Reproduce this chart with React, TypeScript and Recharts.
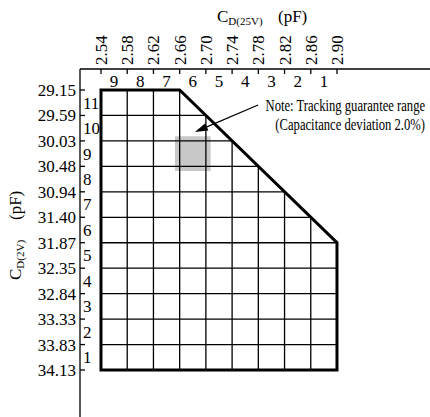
import {
  ComposedChart,
  XAxis,
  YAxis,
  Scatter,
  ReferenceLine,
  ReferenceArea,
  Label,
} from "recharts";

const FONT = '"Liberation Serif", "Times New Roman", serif';

// C_D(25V) tick labels, left to right (pF)
const cd25Labels = ["2.54", "2.58", "2.62", "2.66", "2.70", "2.74", "2.78", "2.82", "2.86", "2.90"];
// C_D(2V) tick labels, top to bottom (pF)
const cd2Labels = [
  "29.15", "29.59", "30.03", "30.48", "30.94", "31.40",
  "31.87", "32.35", "32.84", "33.33", "33.83", "34.13",
];
// rank numbers written between the ticks
const columnRanks = [9, 8, 7, 6, 5, 4, 3, 2, 1];
const rowRanks = [11, 10, 9, 8, 7, 6, 5, 4, 3, 2, 1];

// outline of the guaranteed area, in (column, row) grid units
const outline = [
  { x: 0, y: 0 },
  { x: 3, y: 0 },
  { x: 9, y: 6 },
  { x: 9, y: 11 },
  { x: 0, y: 11 },
  { x: 0, y: 0 },
];

// highlighted rank pair
const highlight = { col: 6, row: 9 };

// note arrow, from the text to the cell (grid units)
const noteArrow = [
  { x: 5.99, y: 0.59 },
  { x: 3.58, y: 1.65 },
];
const noteLines = ["Note: Tracking guarantee range", "(Capacitance deviation 2.0%)"];

// where a grid line at v crosses the outline
const crossings = (axis: "x" | "y", v: number) => {
  const other = axis === "x" ? "y" : "x";
  const hits: number[] = [];
  for (let i = 0; i < outline.length - 1; i++) {
    const p = outline[i];
    const q = outline[i + 1];
    if (p[axis] === q[axis]) continue;
    if (v < Math.min(p[axis], q[axis]) || v > Math.max(p[axis], q[axis])) continue;
    hits.push(p[other] + ((v - p[axis]) * (q[other] - p[other])) / (q[axis] - p[axis]));
  }
  return [Math.min(...hits), Math.max(...hits)];
};

const colLines = cd25Labels.slice(1, -1).map((_, i) => i + 1);
const rowLines = cd2Labels.slice(1, -1).map((_, i) => i + 1);

const xTicks = cd25Labels.flatMap((_, i) => (i < columnRanks.length ? [i, i + 0.5] : [i]));
const yTicks = cd2Labels.flatMap((_, i) => (i < rowRanks.length ? [i, i + 0.5] : [i]));

const TopTick = ({ x, y, payload }: any) => {
  const v = payload.value;
  if (Number.isInteger(v)) {
    return (
      <g>
        <line x1={x} y1={y} x2={x} y2={y + 5} stroke="#000" strokeWidth={1.3} />
        <text
          transform={`translate(${x},${y - 4}) rotate(-90)`}
          dy="0.35em"
          fontSize={17}
          fontFamily={FONT}
          fill="#000"
        >
          {cd25Labels[v]}
        </text>
      </g>
    );
  }
  return (
    <text x={x} y={y + 18} textAnchor="middle" fontSize={17} fontFamily={FONT} fill="#000">
      {columnRanks[Math.floor(v)]}
    </text>
  );
};

const LeftTick = ({ x, y, payload }: any) => {
  const v = payload.value;
  if (Number.isInteger(v)) {
    return (
      <g>
        <line x1={x} y1={y} x2={x + 5} y2={y} stroke="#000" strokeWidth={1.3} />
        <text x={x - 4} y={y} dy="0.35em" textAnchor="end" fontSize={17} fontFamily={FONT} fill="#000">
          {cd2Labels[v]}
        </text>
      </g>
    );
  }
  return (
    <text x={x + 3} y={y} dy="0.35em" fontSize={17} fontFamily={FONT} fill="#000">
      {rowRanks[Math.floor(v)]}
    </text>
  );
};

// the note's serif text is narrow in the original, so squeeze it
const NoteArrow = ({ x1, y1, x2, y2 }: any) => {
  const a = Math.atan2(y2 - y1, x2 - x1);
  const len = 13;
  const half = 4;
  const bx = x2 - len * Math.cos(a);
  const by = y2 - len * Math.sin(a);
  const px = -Math.sin(a) * half;
  const py = Math.cos(a) * half;
  const right = x1 + 167;
  return (
    <g>
      <line x1={x1} y1={y1} x2={bx} y2={by} stroke="#000" strokeWidth={1.2} />
      <polygon
        points={`${x2},${y2} ${bx + px},${by + py} ${bx - px},${by - py}`}
        fill="#000"
      />
      <text
        transform={`translate(${right},${y1 + 6}) scale(0.743,1)`}
        textAnchor="end"
        fontSize={17}
        fontFamily={FONT}
        fill="#000"
      >
        {noteLines[0]}
      </text>
      <text
        transform={`translate(${right},${y1 + 25}) scale(0.743,1)`}
        textAnchor="end"
        fontSize={17}
        fontFamily={FONT}
        fill="#000"
      >
        {noteLines[1]}
      </text>
    </g>
  );
};

const TopTitle = ({ viewBox }: any) => (
  <text x={viewBox.x + 137} y={viewBox.y + 22} fontSize={17} fontFamily={FONT} fill="#000">
    C
    <tspan fontSize={11} dy={3}>
      D(25V)
    </tspan>
    <tspan fontSize={17} dy={-3} x={viewBox.x + 198}>
      (pF)
    </tspan>
  </text>
);

const LeftTitle = ({ viewBox }: any) => (
  <text
    transform={`translate(${viewBox.x + 21},${viewBox.y + 211}) rotate(-90)`}
    fontSize={17}
    fontFamily={FONT}
    fill="#000"
  >
    C
    <tspan fontSize={11} dy={3}>
      D(2V)
    </tspan>
    <tspan fontSize={17} dy={-3} x={60}>
      (pF)
    </tspan>
  </text>
);

const hx = cd25Labels.length - 1 - highlight.col;
const hy = cd2Labels.length - 1 - highlight.row;
const pad = 0.18;

export default function App() {
  return (
    <div style={{ position: "absolute", left: 0, top: 0 }}>
      <ComposedChart width={430} height={417} margin={{ top: 0, right: 0, bottom: 0, left: 0 }}>
        <XAxis
          type="number"
          dataKey="x"
          orientation="top"
          height={69}
          domain={[-0.8008, 12.547]}
          allowDataOverflow
          ticks={xTicks}
          interval={0}
          tickSize={0}
          tickMargin={0}
          tick={<TopTick />}
          axisLine={{ stroke: "#000", strokeWidth: 1.3 }}
        >
          <Label content={<TopTitle />} />
        </XAxis>
        <YAxis
          type="number"
          dataKey="y"
          width={80}
          reversed
          domain={[-0.825, 12.846]}
          allowDataOverflow
          ticks={yTicks}
          interval={0}
          tickSize={0}
          tickMargin={0}
          tick={<LeftTick />}
          axisLine={{ stroke: "#000", strokeWidth: 1.3 }}
        >
          <Label content={<LeftTitle />} />
        </YAxis>
        <ReferenceArea
          x1={hx - pad}
          x2={hx + 1 + pad}
          y1={hy - pad}
          y2={hy + 1 + pad}
          fill="#c8c8c8"
          fillOpacity={1}
          stroke="none"
          ifOverflow="visible"
        />
        {colLines.map((c) => {
          const [y0, y1] = crossings("x", c);
          return (
            <ReferenceLine
              key={`c${c}`}
              segment={[{ x: c, y: y0 }, { x: c, y: y1 }]}
              stroke="#000"
              strokeWidth={1.3}
              ifOverflow="visible"
            />
          );
        })}
        {rowLines.map((r) => {
          const [x0, x1] = crossings("y", r);
          return (
            <ReferenceLine
              key={`r${r}`}
              segment={[{ x: x0, y: r }, { x: x1, y: r }]}
              stroke="#000"
              strokeWidth={1.3}
              ifOverflow="visible"
            />
          );
        })}
        <Scatter
          data={outline}
          dataKey="y"
          line={{ stroke: "#000", strokeWidth: 3, strokeLinecap: "square" }}
          shape={() => <g />}
          isAnimationActive={false}
        />
        <ReferenceLine segment={noteArrow} shape={NoteArrow} ifOverflow="visible" />
      </ComposedChart>
    </div>
  );
}
